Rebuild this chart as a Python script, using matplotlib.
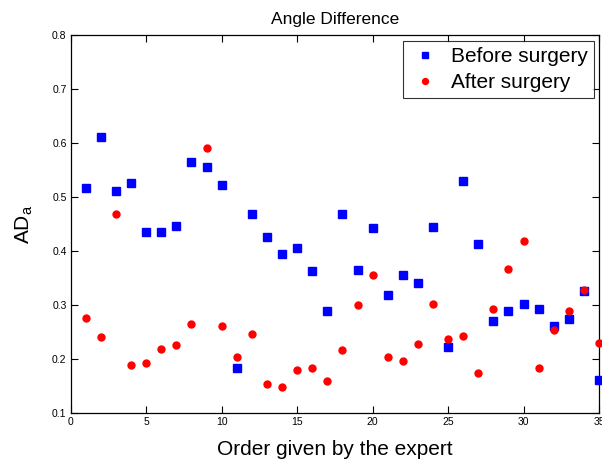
import matplotlib
matplotlib.use("Agg")
import matplotlib.pyplot as plt

plt.rcParams['font.family'] = ['Liberation Sans', 'DejaVu Sans']

order = list(range(1, 36))
before = [0.517, 0.611, 0.511, 0.526, 0.436, 0.436, 0.447, 0.565, 0.557, 0.523,
          0.184, 0.469, 0.426, 0.396, 0.406, 0.363, 0.290, 0.469, 0.365, 0.444,
          0.319, 0.357, 0.342, 0.446, 0.223, 0.530, 0.414, 0.271, 0.290, 0.302,
          0.294, 0.262, 0.275, 0.327, 0.162]
after = [0.277, 0.242, 0.469, 0.190, 0.194, 0.219, 0.227, 0.265, 0.592, 0.261,
         0.204, 0.246, 0.154, 0.148, 0.180, 0.183, 0.159, 0.217, 0.300, 0.357,
         0.204, 0.196, 0.228, 0.302, 0.237, 0.244, 0.175, 0.294, 0.367, 0.419,
         0.183, 0.254, 0.290, 0.329, 0.230]

x_ticks = [0, 5, 10, 15, 20, 25, 30, 35]
y_ticks = [0.1, 0.2, 0.3, 0.4, 0.5, 0.6, 0.7, 0.8]

fig = plt.figure(figsize=(6.02, 4.61), dpi=100)
ax = fig.add_axes([0.1175, 0.1035, 0.8775, 0.8196])

ax.plot(order, before, linestyle='none', marker='s', markersize=5.2,
        color='#0000ff', label='Before surgery', clip_on=False, zorder=3)
ax.plot(order, after, linestyle='none', marker='o', markersize=5.0,
        color='#ff0000', label='After surgery', clip_on=False, zorder=3)

ax.set_xlim(0, 35)
ax.set_ylim(0.1, 0.8)
ax.set_xticks(x_ticks)
ax.set_xticklabels([str(t) for t in x_ticks])
ax.set_yticks(y_ticks)
ax.set_yticklabels([f"{t:.1f}" for t in y_ticks])
ax.tick_params(direction='in', length=5, width=0.8, labelsize=7.5,
               top=True, right=True, pad=3)
for s in ax.spines.values():
    s.set_linewidth(0.9)

ax.set_title('Angle Difference', fontsize=12.5, pad=8)
ax.set_xlabel('Order given by the expert', fontsize=15, labelpad=9)
ax.set_ylabel('AD$_\\mathregular{a}$', fontsize=15, labelpad=12)

leg = ax.legend(loc='upper right', fontsize=15, frameon=True, fancybox=False,
                edgecolor='black', borderpad=0.3, handlelength=1.5,
                handletextpad=0.5, labelspacing=0.35, borderaxespad=0.25,
                markerscale=0.85)
leg.get_frame().set_linewidth(0.8)

fig.savefig('out.png', dpi=100)
